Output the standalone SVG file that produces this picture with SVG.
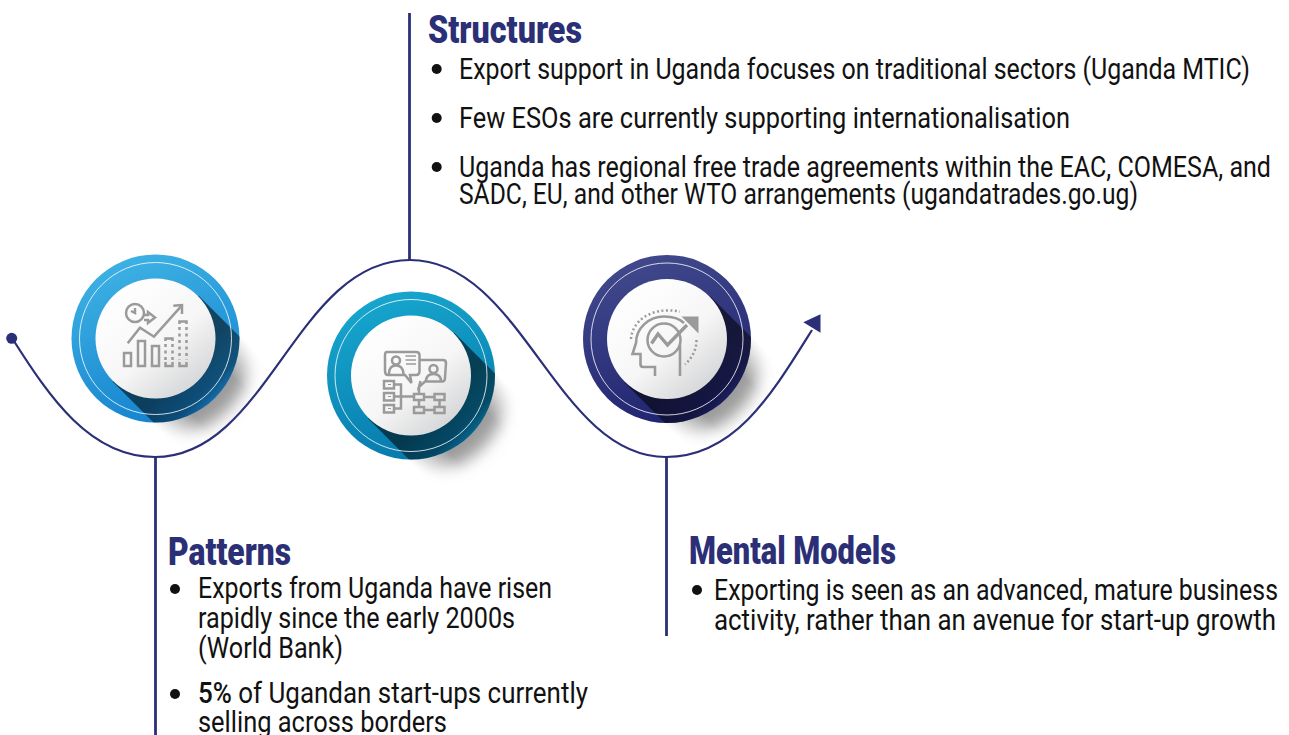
<svg xmlns="http://www.w3.org/2000/svg" xmlns:xlink="http://www.w3.org/1999/xlink" width="1289" height="735" viewBox="0 0 1289 735">
<style>
.conn{fill:none;stroke:#2a2f78;stroke-width:2.2}
.stem{fill:none;stroke:#2a2f78;stroke-width:2.8}
.title{font-family:Roboto,"Liberation Sans",sans-serif;font-weight:900;font-size:38px;fill:#2b3076}
.body{font-family:Roboto,"Liberation Sans",sans-serif;font-size:29px;fill:#111}
.bul{fill:#111}
.ic{fill:none;stroke:#9a9a9a;stroke-width:2.5}
.icf{fill:#9a9a9a}
.ring{fill:none;stroke:#fff;stroke-opacity:.8;stroke-width:1}
</style>
<defs>
<linearGradient id="gBlue" x1="0.25" y1="0" x2="0.6" y2="1"><stop offset="0" stop-color="#3fb3e4"/><stop offset="1" stop-color="#1482cf"/></linearGradient>
<linearGradient id="gTeal" x1="0.25" y1="0" x2="0.6" y2="1"><stop offset="0" stop-color="#17a8cf"/><stop offset="1" stop-color="#0678ab"/></linearGradient>
<linearGradient id="gNavy" x1="0.25" y1="0" x2="0.6" y2="1"><stop offset="0" stop-color="#434a8c"/><stop offset="1" stop-color="#1f2370"/></linearGradient>
<linearGradient id="gDisc" x1="0.15" y1="0.1" x2="0.85" y2="0.95"><stop offset="0" stop-color="#fff"/><stop offset="0.55" stop-color="#f6f6f6"/><stop offset="1" stop-color="#d2d3d5"/></linearGradient>
<linearGradient id="gBand" gradientUnits="userSpaceOnUse" x1="28" y1="28" x2="66" y2="66"><stop offset="0" stop-color="#000" stop-opacity=".55"/><stop offset="0.6" stop-color="#000" stop-opacity=".42"/><stop offset="1" stop-color="#000" stop-opacity=".02"/></linearGradient>
<linearGradient id="gFade" gradientUnits="userSpaceOnUse" x1="44" y1="-44" x2="-44" y2="44"><stop offset="0" stop-color="#000"/><stop offset="0.28" stop-color="#fff"/><stop offset="0.72" stop-color="#fff"/><stop offset="1" stop-color="#000"/></linearGradient>
<clipPath id="cOuter"><circle r="84"/></clipPath>
<mask id="mCast" maskUnits="userSpaceOnUse" x="-150" y="-150" width="300" height="300"><rect x="-150" y="-150" width="300" height="300" fill="url(#gFade)"/></mask>
<filter id="soft" x="-30%" y="-30%" width="160%" height="160%"><feGaussianBlur stdDeviation="8"/></filter>
<g id="badge-back"><g mask="url(#mCast)"><circle cx="14" cy="14" r="82" fill="#8a8a8a" fill-opacity=".85" filter="url(#soft)"/></g></g>
<g id="badge-front">
<path d="M43 -43 L130 44 L44 130 L-43 43 Z" fill="url(#gBand)" clip-path="url(#cOuter)"/>
<circle class="ring" r="76"/>
<circle r="60" fill="url(#gDisc)"/>
</g>
</defs>
<g id="connectors">
<path class="conn" d="M12 338 C50 398 90 457 155 457 C268 457 296 260 410 260 C522 260 556 457 666 457 C735 457 772 394 812 330"/>
<path d="M803.300 322.300 L820.500 314.300 L820.500 332.700 Z" fill="#2a2f78"/>
<circle cx="11.700" cy="338.300" r="5.500" fill="#2a2f78"/>
<path class="stem" d="M409.500 13 V260"/>
<path class="stem" d="M155.500 457 V735"/>
<path class="stem" d="M666.500 457 V636"/>
</g>
<g id="node-patterns-badge" transform="translate(155.500 338.500)">
<use href="#badge-back"/><circle r="84" fill="url(#gBlue)"/><use href="#badge-front"/>
<g class="ic" transform="translate(-155.500 -338.500)">
<circle cx="135" cy="313" r="9"/><path d="M135 308 V313 L131 311"/>
<path d="M144 315 H148 V312 L155 317.500 L148 323 V320 H144"/>
<path d="M127.700 343.300 L140 327.700 L154 336.700 L181.700 305.700"/><path d="M173.300 305.700 L182 305 V314"/>
<rect x="124" y="353" width="7" height="13"/><rect x="138" y="341" width="7" height="25"/><rect x="152" y="346" width="7" height="20"/>
<path d="M165.500 341 V338.500 H172.500 V341 M165.500 362 V366 H172.500 V362 M179.500 324 V321.500 H186.500 V324 M179.500 362 V366 H186.500 V362"/>
<path d="M165.500 344 V360 M172.500 344 V360 M179.500 327 V360 M186.500 327 V360" stroke-dasharray="3 3.500"/>
</g>
</g>
<g id="node-structures-badge" transform="translate(411 375.500)">
<use href="#badge-back"/><circle r="84" fill="url(#gTeal)"/><use href="#badge-front"/>
<g class="ic" transform="translate(-411 -375.500)">
<path d="M387 352 H416 Q419.500 352 419.500 355 V371 Q419.500 375 416 375 H410 L411.500 383 L405 375 H388 Q385 375 385 371 V355 Q385 352 387 352 Z"/>
<path d="M420 360 H443 Q446 360 446 363 L445 378 Q445 381.500 442 381.500 H425 L419 387 L420.500 381"/>
<circle cx="396" cy="360.500" r="4"/><path d="M389 374 Q389 365.500 396 365.500 Q403 365.500 403.500 374"/>
<circle cx="433.500" cy="369" r="4"/><path d="M426 381.500 Q426 374 433.500 374 Q441 374 441 381.500"/>
<path d="M405.500 356 H416 M405.500 360 H416 M406 364 H416" stroke-width="1.500"/>
<rect x="384" y="381" width="10" height="7.500"/><rect x="384" y="393" width="10" height="7.500"/><rect x="384" y="405" width="10" height="7.500"/>
<path d="M388 384.500 H391 M388 396.500 H391 M388 408.500 H391" stroke-width="1.200"/>
<rect x="414" y="394" width="10" height="6"/><rect x="434.500" y="394" width="10" height="6"/><rect x="414" y="407" width="10" height="6"/><rect x="434.500" y="407" width="10" height="6"/>
<path d="M394 384.500 H401 V408.500 H394 M394 396.500 H414 M424 397 H434.500 M424 410 H434.500 M419 400 V407 M439.500 400 V407 M419 387 V394"/>
</g>
</g>
<g id="node-mental-badge" transform="translate(667 339)">
<use href="#badge-back"/><circle r="84" fill="url(#gNavy)"/><use href="#badge-front"/>
<g class="ic" transform="translate(-667 -339)">
<path d="M655 376 V367 H643 Q640.500 367 640.500 364 V354 H632.500 L636 343 C636 328 649 316.500 664 316.500 C675 316.500 680 319 684 323 M680 345 V376" stroke-width="2.600"/>
<circle cx="664" cy="340" r="16.500"/>
<path d="M651.500 343.500 L658 334 L667.500 345 L687 325" stroke-width="3.400"/>
<path class="icf" stroke="none" d="M681.500 316.500 H698.500 V333.500 Z"/>
<path d="M631 339 C632 322 650 306 680 311.500" stroke-dasharray="2 2.500"/>
<path d="M696.500 340 C696.500 350 692 358 685 364.500" stroke-dasharray="2 2.500"/>
</g>
</g>
<g id="node-structures">
<text class="title" x="428" y="43" textLength="154" lengthAdjust="spacingAndGlyphs">Structures</text>
<circle class="bul" cx="436.700" cy="69" r="5"/><circle class="bul" cx="436.700" cy="118" r="5"/><circle class="bul" cx="436.700" cy="167" r="5"/>
<text class="body" x="459" y="79" textLength="791" lengthAdjust="spacingAndGlyphs">Export support in Uganda focuses on traditional sectors (Uganda MTIC)</text>
<text class="body" x="459" y="128" textLength="611" lengthAdjust="spacingAndGlyphs">Few ESOs are currently supporting internationalisation</text>
<text class="body" x="459" y="177" textLength="812" lengthAdjust="spacingAndGlyphs">Uganda has regional free trade agreements within the EAC, COMESA, and</text>
<text class="body" x="459" y="204" textLength="679" lengthAdjust="spacingAndGlyphs">SADC, EU, and other WTO arrangements (ugandatrades.go.ug)</text>
</g>
<g id="node-patterns">
<text class="title" x="168" y="565" textLength="123" lengthAdjust="spacingAndGlyphs">Patterns</text>
<circle class="bul" cx="175" cy="589" r="5"/><circle class="bul" cx="175" cy="694" r="5"/>
<text class="body" x="198" y="598" textLength="354" lengthAdjust="spacingAndGlyphs">Exports from Uganda have risen</text>
<text class="body" x="198" y="628" textLength="317" lengthAdjust="spacingAndGlyphs">rapidly since the early 2000s</text>
<text class="body" x="198" y="658" textLength="145" lengthAdjust="spacingAndGlyphs">(World Bank)</text>
<text class="body" x="198" y="703" textLength="390" lengthAdjust="spacingAndGlyphs"><tspan font-weight="500">5%</tspan> of Ugandan start-ups currently</text>
<text class="body" x="198" y="732" textLength="249" lengthAdjust="spacingAndGlyphs">selling across borders</text>
</g>
<g id="node-mental">
<text class="title" x="689" y="564" textLength="207" lengthAdjust="spacingAndGlyphs">Mental Models</text>
<circle class="bul" cx="697" cy="590" r="5"/>
<text class="body" x="714" y="600" textLength="564" lengthAdjust="spacingAndGlyphs">Exporting is seen as an advanced, mature business</text>
<text class="body" x="714" y="630" textLength="562" lengthAdjust="spacingAndGlyphs">activity, rather than an avenue for start-up growth</text>
</g>
</svg>
